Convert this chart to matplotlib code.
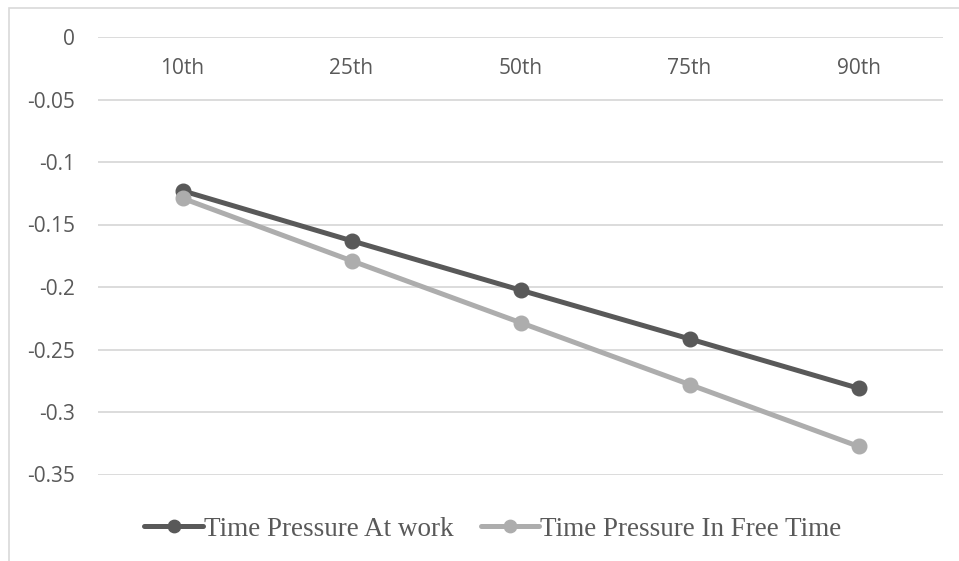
import matplotlib.pyplot as plt
from matplotlib.patches import Rectangle
from matplotlib.ticker import FuncFormatter

plt.rcParams['axes.unicode_minus'] = False

# data
percentiles = ['10th', '25th', '50th', '75th', '90th']
at_work = [-0.123, -0.163, -0.2025, -0.2415, -0.281]
free_time = [-0.129, -0.179, -0.2285, -0.278, -0.3275]
series_names = ['Time Pressure At work', 'Time Pressure In Free Time']
y_ticks = [0, -0.05, -0.1, -0.15, -0.2, -0.25, -0.3, -0.35]

W, H = 959, 561
fig = plt.figure(figsize=(W / 100, H / 100), dpi=100)

# outer chart frame (Excel style)
fig.patches.append(Rectangle((8.5 / W, -0.1), 1.2, 1 - 7.5 / H + 0.1,
                             transform=fig.transFigure, fill=False,
                             edgecolor='#d9d9d9', linewidth=1.2))

left, right, top, bottom = 98, 943, 37, 474.5
ax = fig.add_axes([left / W, 1 - bottom / H, (right - left) / W, (bottom - top) / H])

x = list(range(len(percentiles)))
ax.plot(x, at_work, color='#595959', linewidth=3.6, marker='o', markersize=10.5,
        label=series_names[0], solid_capstyle='round', zorder=3)
ax.plot(x, free_time, color='#adadad', linewidth=3.6, marker='o', markersize=10.5,
        label=series_names[1], solid_capstyle='round', zorder=4)

ax.set_xlim(-0.5, len(percentiles) - 0.5)
ax.set_ylim(-0.35, 0)
ax.set_yticks(y_ticks)
ax.yaxis.set_major_formatter(FuncFormatter(lambda v, p: f'{v:g}'))
ax.tick_params(axis='y', length=0, pad=16.5, labelsize=15, labelcolor='#595959')
for lab in ax.get_yticklabels():
    lab.set_fontfamily('Open Sans')
ax.set_xticks([])
ax.grid(axis='y', color='#d9d9d9', linewidth=1.3)
ax.set_axisbelow(True)
for s in ax.spines.values():
    s.set_visible(False)

# category labels sit just under the zero line
for i, name in enumerate(percentiles):
    ax.text(i, 1 - 32 / (bottom - top), name, transform=ax.get_xaxis_transform(),
            ha='center', va='center', fontsize=15, color='#595959', family='Open Sans')

leg = fig.legend(loc='center', bbox_to_anchor=(493 / W, 1 - 529 / H), ncol=2,
                 frameon=False, handlelength=2.15, handletextpad=0.05,
                 columnspacing=1.0, markerscale=0.85,
                 prop={'family': 'Liberation Serif', 'size': 19.5})
for t in leg.get_texts():
    t.set_color('#595959')

fig.savefig('out.png', dpi=100)
